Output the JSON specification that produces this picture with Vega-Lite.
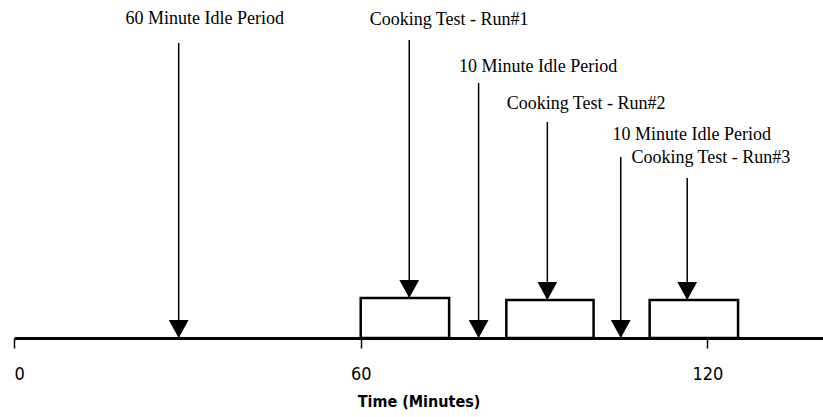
{
  "$schema": "https://vega.github.io/schema/vega-lite/v6.json",
  "width": 809,
  "height": 338,
  "autosize": {"type": "none"},
  "padding": {"left": 14, "top": 0, "right": 0, "bottom": 79},
  "background": "white",
  "config": {"view": {"stroke": null}},
  "datasets": {
    "boxes": [
      {"start": 60, "end": 75.3, "top": 40},
      {"start": 85.2, "end": 100.3, "top": 38},
      {"start": 110, "end": 125.3, "top": 38}
    ],
    "arrows": [
      {"label": "60 Minute Idle Period", "x": 28.5, "from": 295, "tip": 0, "lx": 33, "ly": 319},
      {"label": "Cooking Test - Run#1", "x": 68.4, "from": 298, "tip": 40, "lx": 75.3, "ly": 318},
      {"label": "10 Minute Idle Period", "x": 80.4, "from": 255, "tip": 0, "lx": 90.7, "ly": 271},
      {"label": "Cooking Test - Run#2", "x": 92.3, "from": 216, "tip": 38, "lx": 99, "ly": 234},
      {"label": "10 Minute Idle Period", "x": 105, "from": 181, "tip": 0, "lx": 117.3, "ly": 203},
      {"label": "Cooking Test - Run#3", "x": 116.5, "from": 160, "tip": 38, "lx": 120.6, "ly": 180}
    ]
  },
  "layer": [
    {
      "data": {"name": "boxes"},
      "mark": {"type": "rect", "fill": "white", "stroke": "black", "strokeWidth": 2.5},
      "encoding": {
        "x": {"field": "start", "type": "quantitative",
              "scale": {"domain": [0, 140], "nice": false, "zero": false},
              "axis": {"values": [0, 60, 120], "title": "Time (Minutes)", "grid": false,
                       "domainColor": "black", "domainWidth": 3, "tickColor": "black", "tickWidth": 1.5, "tickSize": 10,
                       "labelFont": "Liberation Sans Narrow, DejaVu Sans Condensed, sans-serif", "labelFontSize": 18, "labelColor": "black", "labelPadding": 17,
                       "titleFont": "Liberation Sans Narrow, DejaVu Sans Condensed, sans-serif", "titleFontSize": 16, "titleFontWeight": "bold", "titleColor": "black", "titlePadding": 10}},
        "x2": {"field": "end"},
        "y": {"field": "top", "type": "quantitative", "scale": {"domain": [0, 338], "nice": false}, "axis": null},
        "y2": {"datum": 0}
      }
    },
    {
      "data": {"name": "arrows"},
      "mark": {"type": "rule", "color": "black", "strokeWidth": 1.5},
      "encoding": {
        "x": {"field": "x", "type": "quantitative"},
        "y": {"field": "from", "type": "quantitative"},
        "y2": {"field": "tip"}
      }
    },
    {
      "data": {"name": "arrows"},
      "mark": {"type": "point", "shape": "M-0.55,-1L0.55,-1L0,0Z", "filled": true, "color": "black", "opacity": 1, "size": 1296},
      "encoding": {
        "x": {"field": "x", "type": "quantitative"},
        "y": {"field": "tip", "type": "quantitative"}
      }
    },
    {
      "data": {"name": "arrows"},
      "mark": {"type": "text", "font": "Liberation Serif", "fontSize": 18, "color": "black", "align": "center", "baseline": "middle"},
      "encoding": {
        "x": {"field": "lx", "type": "quantitative"},
        "y": {"field": "ly", "type": "quantitative"},
        "text": {"field": "label"}
      }
    }
  ]
}
